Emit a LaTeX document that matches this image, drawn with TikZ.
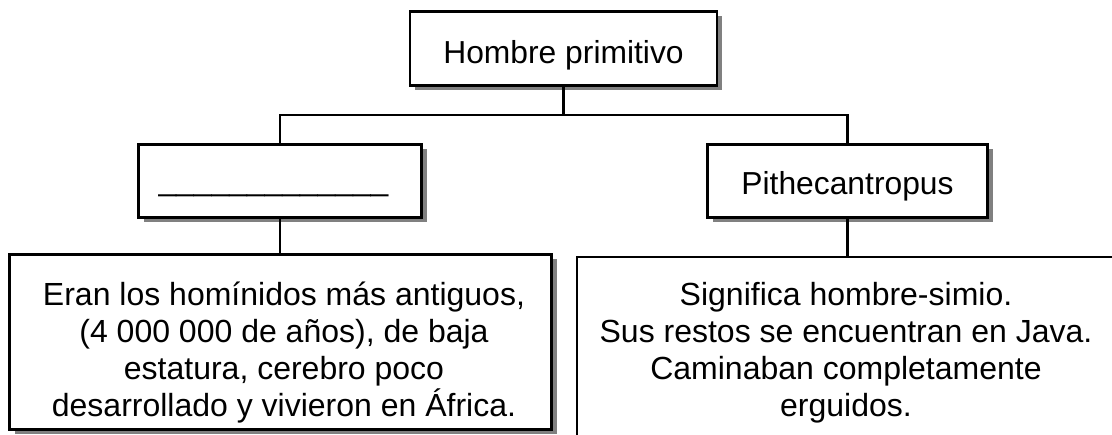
\documentclass[tikz,border=0pt]{standalone}
\usepackage{fontspec}
\setmainfont{Liberation Sans}
\usetikzlibrary{shadows}
\definecolor{shadowgray}{HTML}{808080}
\tikzset{
  boxnode/.style={draw=black, line width=2.6pt, fill=white, inner sep=0pt,
    drop shadow={shadow xshift=5pt, shadow yshift=-5pt, fill=shadowgray, opacity=1}},
  conn/.style={draw=black, line width=2.6pt},
  labeltext/.style={inner sep=0pt, anchor=base, font=\fontsize{31.8}{36}\selectfont},
  desctext/.style={inner sep=0pt, align=center, anchor=base, font=\fontsize{32}{37.2}\selectfont}
}
\begin{document}
\begin{tikzpicture}[x=1pt,y=-1pt]
\useasboundingbox (0,0) rectangle (1112,435);
% boxes
\node[boxnode, minimum width=307pt, minimum height=74pt] (top) at (563.5,48.5) {};
\node[boxnode, minimum width=283pt, minimum height=73pt] (left) at (280,181) {};
\node[boxnode, minimum width=280pt, minimum height=73pt] (right) at (847.5,181) {};
\node[boxnode, minimum width=542pt, minimum height=175pt] (leftdesc) at (280.5,342) {};
\node[boxnode, minimum width=540pt, minimum height=188pt] (rightdesc) at (847,351) {};
% connectors
\coordinate (junction) at (563.5,115);
\draw[conn] (top.south) -- (junction);
\draw[conn] (left.north) |- (junction) -| (right.north);
\draw[conn] (left.south) -- (left.south |- leftdesc.north);
\draw[conn] (right.south) -- (right.south |- rightdesc.north);
% texts
\node[labeltext] (toptext) at (563.5,64) {Hombre primitivo};
\node[labeltext] (lefttext) at (273.5,190.5) {\_\_\_\_\_\_\_\_\_\_\_\_\_};
\node[labeltext] (righttext) at (847.5,195) {Pithecantropus};
\node[desctext] (leftdesctext) at (284,417) {Eran los homínidos más antiguos,\\(4 000 000 de años), de baja\\estatura, cerebro poco\\desarrollado y vivieron en África.};
\node[desctext] (rightdesctext) at (846,417) {Significa hombre-simio.\\Sus restos se encuentran en Java.\\Caminaban completamente\\erguidos.};
\end{tikzpicture}
\end{document}
